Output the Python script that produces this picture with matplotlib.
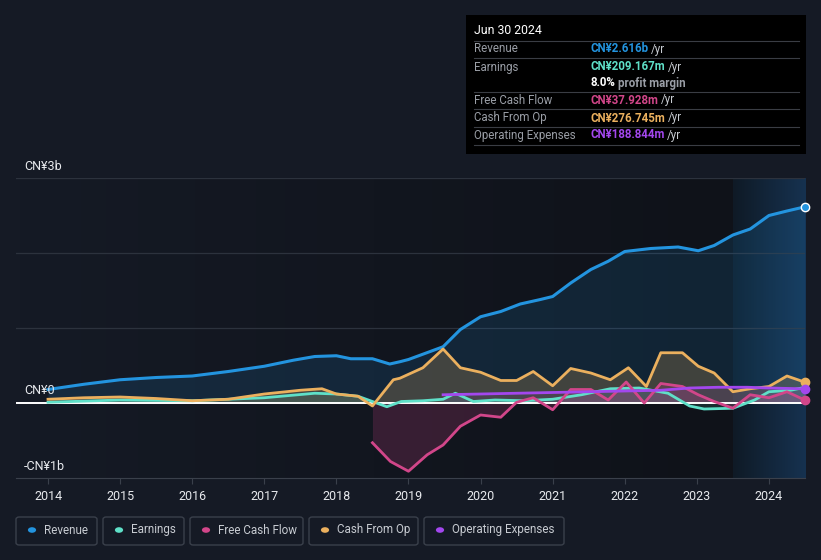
import numpy as np
import matplotlib.pyplot as plt
from matplotlib.patches import FancyBboxPatch
from matplotlib.colors import LinearSegmentedColormap

plt.rcParams['font.family'] = ['Roboto', 'DejaVu Sans']

# values in CN¥ billions, x in decimal years
rev_x = [2014.0, 2014.5, 2015.0, 2015.5, 2016.0, 2016.5, 2017.0, 2017.4, 2017.7, 2018.0,
         2018.2, 2018.5, 2018.74, 2018.88, 2019.0, 2019.17, 2019.48, 2019.72, 2020.0, 2020.28,
         2020.55, 2020.83, 2021.0, 2021.25, 2021.53, 2021.77, 2022.0, 2022.36, 2022.74, 2023.02,
         2023.24, 2023.5, 2023.74, 2024.0, 2024.25, 2024.5]
rev_y = [0.18, 0.25, 0.31, 0.34, 0.36, 0.42, 0.49, 0.57, 0.62, 0.63,
         0.59, 0.59, 0.52, 0.55, 0.58, 0.64, 0.75, 0.98, 1.15, 1.22,
         1.32, 1.38, 1.42, 1.60, 1.78, 1.89, 2.02, 2.06, 2.08, 2.03,
         2.10, 2.24, 2.32, 2.50, 2.56, 2.616]

earn_x = [2014.0, 2015.0, 2016.0, 2017.0, 2017.7, 2018.0, 2018.3, 2018.5, 2018.7, 2018.9,
          2019.2, 2019.48, 2019.65, 2019.9, 2020.2, 2020.6, 2021.0, 2021.4, 2021.8, 2022.2,
          2022.6, 2022.9, 2023.1, 2023.5, 2023.8, 2024.0, 2024.3, 2024.5]
earn_y = [0.01, 0.04, 0.03, 0.07, 0.13, 0.12, 0.09, 0.02, -0.05, 0.02,
          0.03, 0.05, 0.13, 0.02, 0.04, 0.03, 0.05, 0.11, 0.19, 0.20,
          0.13, -0.04, -0.08, -0.07, 0.04, 0.15, 0.17, 0.209]

fcf_x = [2018.5, 2018.75, 2019.0, 2019.26, 2019.48, 2019.72, 2020.0, 2020.28, 2020.5, 2020.73,
         2021.0, 2021.25, 2021.53, 2021.77, 2022.02, 2022.27, 2022.5, 2022.8, 2023.02, 2023.24,
         2023.5, 2023.74, 2024.0, 2024.25, 2024.5]
fcf_y = [-0.53, -0.78, -0.91, -0.69, -0.56, -0.31, -0.16, -0.19, 0.01, 0.07,
         -0.09, 0.18, 0.18, 0.04, 0.28, 0.00, 0.26, 0.22, 0.11, 0.02,
         -0.07, 0.11, 0.07, 0.15, 0.038]

cfo_x = [2014.0, 2014.5, 2015.0, 2015.5, 2016.0, 2016.5, 2017.0, 2017.5, 2017.8, 2018.0,
         2018.3, 2018.5, 2018.79, 2018.88, 2019.2, 2019.48, 2019.72, 2020.0, 2020.28, 2020.5,
         2020.73, 2021.0, 2021.25, 2021.53, 2021.8, 2022.05, 2022.3, 2022.5, 2022.8, 2023.02,
         2023.24, 2023.5, 2023.74, 2024.0, 2024.25, 2024.5]
cfo_y = [0.05, 0.07, 0.08, 0.06, 0.03, 0.05, 0.12, 0.17, 0.19, 0.12,
         0.09, -0.04, 0.31, 0.33, 0.47, 0.72, 0.47, 0.41, 0.30, 0.30,
         0.42, 0.23, 0.46, 0.40, 0.31, 0.47, 0.22, 0.67, 0.67, 0.49,
         0.40, 0.15, 0.19, 0.22, 0.36, 0.277]

opex_x = [2019.48, 2020.0, 2020.5, 2021.0, 2021.5, 2022.0, 2022.5, 2022.9, 2023.3, 2023.7, 2024.0, 2024.5]
opex_y = [0.11, 0.12, 0.13, 0.14, 0.15, 0.16, 0.17, 0.20, 0.21, 0.21, 0.20, 0.189]

years = list(range(2014, 2025))

c_rev = '#2394df'
c_earn = '#5fe0c8'
c_fcf = '#d2468a'
c_cfo = '#ebb05e'
c_opex = '#a347ee'
bg = '#151a25'

fig = plt.figure(figsize=(8.21, 5.6), dpi=100, facecolor=bg)
ax = fig.add_axes([16/821, 82/560, 789/821, 300/560])
ax.set_facecolor(bg)
x0, x1 = 2013.556, 2024.5
ax.set_xlim(x0, x1)
ax.set_ylim(-1, 3)

# darker past area, lighter band for the last year
grad = LinearSegmentedColormap.from_list('g', [bg, '#0f1219'])
ax.imshow(np.linspace(0, 1, 200).reshape(1, -1), cmap=grad, aspect='auto',
          extent=[x0, 2023.5, -1, 3], zorder=0)
band = LinearSegmentedColormap.from_list('b', ['#0f1a26', '#163250'])
ax.imshow(np.linspace(0, 1, 200).reshape(1, -1), cmap=band, aspect='auto',
          extent=[2023.5, x1, -1, 3], zorder=0)

for v in [1, 2, 3]:
    ax.axhline(v, color='#2c323d', lw=0.9, zorder=1)

ax.fill_between(rev_x, rev_y, 0, color=c_rev, alpha=0.14, lw=0, zorder=2)
ax.fill_between(cfo_x, cfo_y, 0, color=c_cfo, alpha=0.22, lw=0, zorder=2)
ax.fill_between(earn_x, earn_y, 0, color=c_earn, alpha=0.12, lw=0, zorder=2)
ax.fill_between(fcf_x, fcf_y, 0, color=c_fcf, alpha=0.2, lw=0, zorder=2)
ax.fill_between(opex_x, opex_y, 0, color=c_opex, alpha=0.1, lw=0, zorder=2)

ax.plot(rev_x, rev_y, color=c_rev, lw=2.2, zorder=4)
ax.plot(earn_x, earn_y, color=c_earn, lw=2, zorder=4)
ax.plot(cfo_x, cfo_y, color=c_cfo, lw=2, zorder=4)
ax.plot(fcf_x, fcf_y, color=c_fcf, lw=2, zorder=4)
ax.plot(opex_x, opex_y, color=c_opex, lw=2, zorder=4)

ax.axhline(0, color='white', lw=1.4, zorder=3)

ax.scatter([rev_x[-1]], [rev_y[-1]], s=36, color=c_rev, edgecolor='white', lw=1, zorder=6, clip_on=False)
for xs, ys, c in [(cfo_x, cfo_y, c_cfo), (opex_x, opex_y, c_opex), (fcf_x, fcf_y, c_fcf)]:
    ax.scatter([xs[-1]], [ys[-1]], s=36, color=c, edgecolor=c, zorder=6, clip_on=False)

for s in ['top', 'right', 'left']:
    ax.spines[s].set_visible(False)
ax.spines['bottom'].set_color('#3a404b')
ax.set_yticks([])
ax.set_xticks(years)
ax.set_xticklabels([str(y) for y in years], color='#e8eaee', fontsize=9)
ax.tick_params(axis='x', length=4, color='#3a404b', pad=5)

# y labels
fig.text(24/821, 1 - 166/560, 'CN¥3b', color='#e8eaee', fontsize=9, va='center')
fig.text(24/821, 1 - 391/560, 'CN¥0', color='#e8eaee', fontsize=9, va='center')
fig.text(24/821, 1 - 466/560, '-CN¥1b', color='#e8eaee', fontsize=9, va='center')


def fy(py):
    return 1 - py / 560


def fx(px):
    return px / 821


# tooltip box
fig.patches.append(plt.Rectangle((fx(466), fy(154)), 340/821, 139/560, transform=fig.transFigure,
                                 facecolor='black', edgecolor='none', zorder=10))
fig.text(fx(474), fy(31), 'Jun 30 2024', color='white', fontsize=8.8, va='center', zorder=11)
for ly in [41, 58, 92, 109, 127, 145]:
    fig.lines.append(plt.Line2D([fx(474), fx(799)], [fy(ly), fy(ly)], transform=fig.transFigure,
                                color='#3a3d44', lw=0.8, zorder=11))
rows = [
    (49, 'Revenue', 'CN¥2.616b', c_rev),
    (67, 'Earnings', 'CN¥209.167m', c_earn),
    (100, 'Free Cash Flow', 'CN¥37.928m', c_fcf),
    (118, 'Cash From Op', 'CN¥276.745m', c_cfo),
    (135, 'Operating Expenses', 'CN¥188.844m', c_opex),
]
for ry, lab, val, c in rows:
    fig.text(fx(474), fy(ry), lab, color='#9a9ea6', fontsize=8.3, va='center', zorder=11)
    t = fig.text(fx(590), fy(ry), val, color=c, fontsize=8.3, va='center', fontweight='bold', zorder=11)
    fig.canvas.draw()
    bb = t.get_window_extent()
    fig.text(bb.x1 / 821 + 3/821, fy(ry), '/yr', color='#c8ccd2', fontsize=8.3, va='center', zorder=11)
t = fig.text(fx(590), fy(83), '8.0%', color='white', fontsize=8.3, va='center', fontweight='bold', zorder=11)
fig.canvas.draw()
bb = t.get_window_extent()
fig.text(bb.x1 / 821 + 3/821, fy(83), 'profit margin', color='#9a9ea6', fontsize=8.3,
         va='center', fontweight='bold', zorder=11)

# legend
legend = [('Revenue', c_rev, 16, 97), ('Earnings', c_earn, 103, 184),
          ('Free Cash Flow', c_fcf, 190, 303), ('Cash From Op', c_cfo, 309, 418),
          ('Operating Expenses', c_opex, 424, 564)]
for lab, c, lx0, lx1 in legend:
    fig.patches.append(FancyBboxPatch((fx(lx0), fy(545)), (lx1 - lx0)/821, 28/560,
                                      boxstyle='round,pad=0,rounding_size=0.004',
                                      transform=fig.transFigure, facecolor='none',
                                      edgecolor='#3a404b', lw=1))
    fig.patches.append(plt.Circle((fx(lx0 + 16), fy(530)), 0.005, transform=fig.transFigure,
                                  facecolor=c, edgecolor='none'))
    fig.text(fx(lx0 + 28), fy(530), lab, color='#c8ccd2', fontsize=8.4, va='center')

fig.savefig('out.png', dpi=100, facecolor=bg)
